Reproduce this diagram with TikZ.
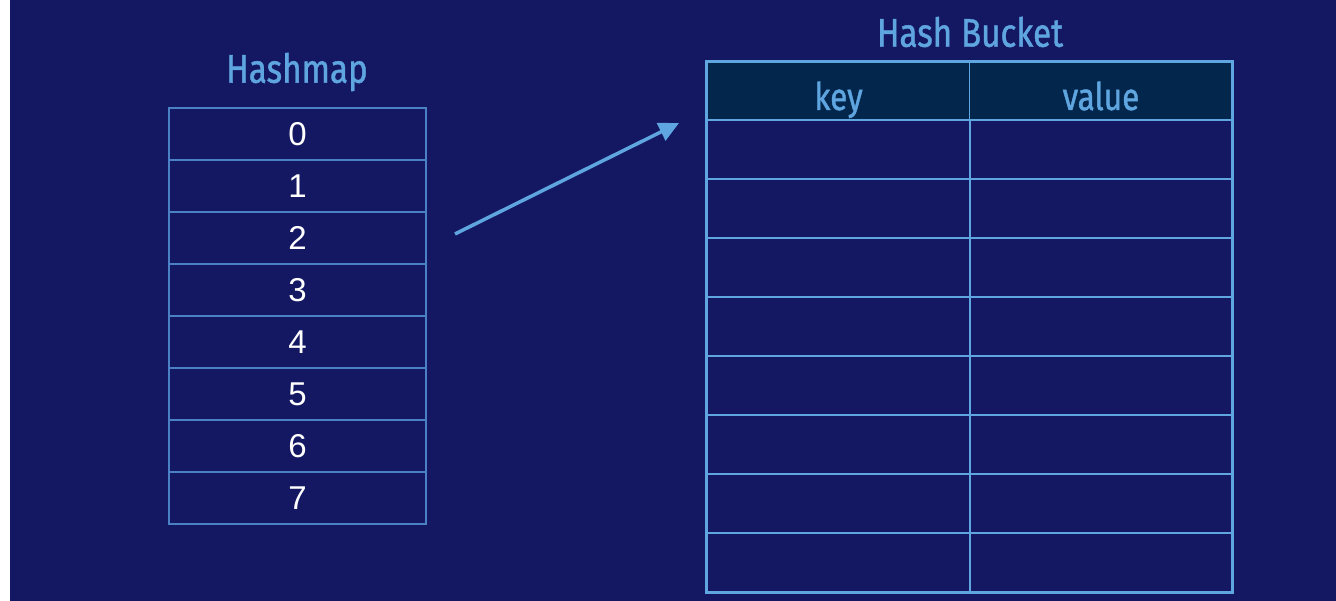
\documentclass[tikz,border=0pt]{standalone}
\usepackage{fontspec}
\setmainfont{Liberation Sans}
\newfontfamily\titlefont[FakeBold=1.2]{Fira Sans}
\usetikzlibrary{arrows.meta}
\definecolor{bg}{HTML}{141862}
\definecolor{hdr}{HTML}{03264D}
\definecolor{accent}{HTML}{5FA6E0}
\definecolor{gridln}{HTML}{4A80C4}
\tikzset{
  title/.style={text=accent, font=\titlefont\fontsize{40}{40}\selectfont, inner sep=0},
  slot/.style={draw=gridln, line width=1.2pt, minimum width=257pt, minimum height=52pt,
    inner sep=0, text=white, font=\fontsize{33}{33}\selectfont},
  cell/.style={draw=accent, line width=1.2pt, minimum width=263pt, minimum height=59pt, inner sep=0},
  headcell/.style={cell, fill=hdr, minimum height=58pt, text=accent,
    text height=42pt, text depth=4pt,
    font=\titlefont\fontsize{38}{38}\selectfont},
  link/.style={draw=accent, line width=3.5pt, -{Triangle[length=20pt,width=19pt]}}
}
\begin{document}
\begin{tikzpicture}[x=1pt,y=1pt]
% page and background
\fill[white] (0,0) rectangle (1336,601);
\fill[bg] (10,0) rectangle (1336,601);
\useasboundingbox (0,0) rectangle (1336,601);

% hashmap slots
\node[title] (hmtitle) at (297,529) {\scalebox{0.83}[1]{Hashmap}};
\foreach \i in {0,...,7}{
  \node[slot] (h\i) at (297.5,{467-52*\i}) {\i};
}

% hash bucket table
\node[title] (hbtitle) at (970,569) {\scalebox{0.83}[1]{Hash Bucket}};
\node[headcell] (key) at (838.5,510) {\scalebox{0.83}[1]{key}};
\node[headcell] (value) at (1101,510) {\scalebox{0.83}[1]{value}};
\foreach \j in {0,...,7}{
  \node[cell] (k\j) at (838.5,{451.5-59*\j}) {};
  \node[cell, minimum width=262pt] (v\j) at (1101,{451.5-59*\j}) {};
}
\draw[accent, line width=3pt] (key.north west) rectangle (v7.south east);

% pointer from slot 2 to the bucket
\coordinate (tail) at (455,367);
\coordinate (tip) at (679,478);
\draw[link] (tail) -- (tip);
\end{tikzpicture}
\end{document}
